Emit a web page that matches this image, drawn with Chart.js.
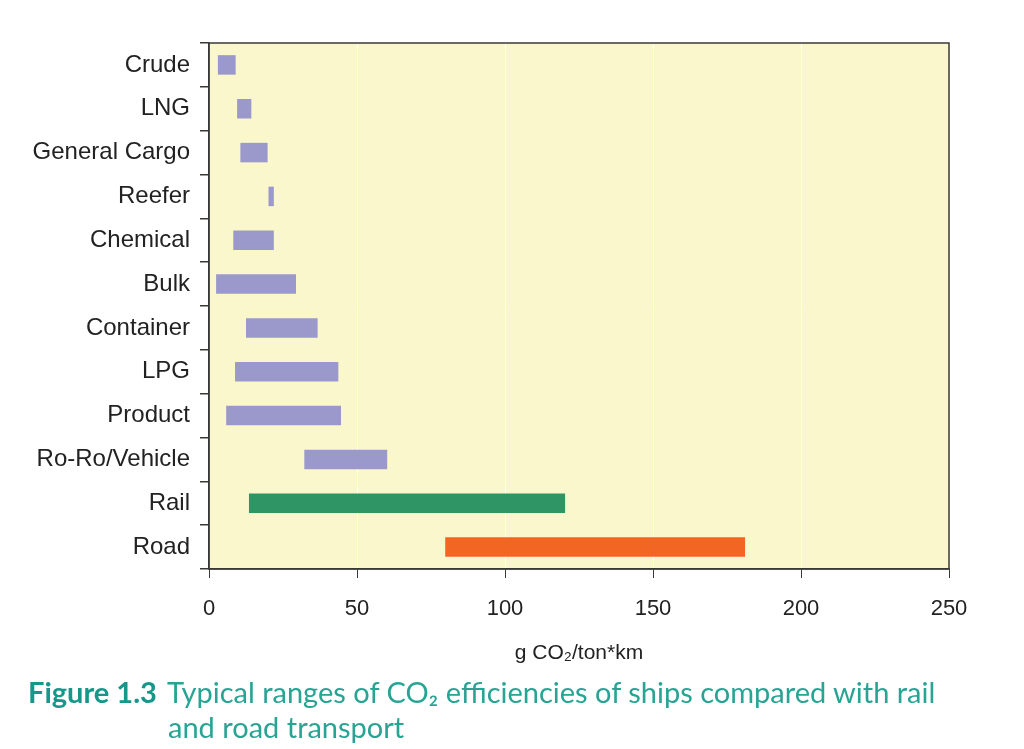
<!DOCTYPE html>
<html>
<head>
<meta charset="utf-8">
<script src="https://cdn.jsdelivr.net/npm/chart.js@4/dist/chart.umd.min.js"></script>
<style>
  html, body { margin:0; padding:0; background:#fff; }
  #wrap { position:relative; width:1024px; height:749px; overflow:hidden; }
  canvas { position:absolute; left:0; top:0; }
  #caption { position:absolute; left:28px; top:674px; font-family:Lato, "Noto Sans", sans-serif; font-size:29px; line-height:35px; color:#27a493; white-space:nowrap; transform-origin:0 0; }
  #caption b { color:#16978a; font-weight:700; margin-right:10px; }
  #caption .l2 { padding-left:140px; }
</style>
</head>
<body>
<div id="wrap">
  <canvas id="c" width="1024" height="749"></canvas>
  <div id="caption"><span class="l1"><b>Figure 1.3</b>Typical ranges of CO₂ efficiencies of ships compared with rail</span><br><span class="l2">and road transport</span></div>
</div>
<script>
const categories = ["Crude","LNG","General Cargo","Reefer","Chemical","Bulk","Container","LPG","Product","Ro-Ro/Vehicle","Rail","Road"];
const lowValues  = [3.0, 9.5, 10.6, 20.1, 8.2, 2.4, 12.5, 8.8, 5.8, 32.2, 13.5, 79.8];
const highValues = [9.0, 14.3, 19.8, 21.9, 21.9, 29.4, 36.7, 43.7, 44.6, 60.2, 120.3, 181.1];
const barColors  = ["#9b98cc","#9b98cc","#9b98cc","#9b98cc","#9b98cc","#9b98cc","#9b98cc","#9b98cc","#9b98cc","#9b98cc","#2f9565","#f26522"];
const xTicks = [0, 50, 100, 150, 200, 250];
const xTitle = "g CO₂/ton*km";

const ranges = categories.map((c, i) => [lowValues[i], highValues[i]]);

const plotBg = {
  id: 'plotBg',
  beforeDraw(chart) {
    const {ctx, chartArea: a} = chart;
    ctx.save();
    ctx.fillStyle = '#fbf7cc';
    ctx.fillRect(a.left, a.top, a.right - a.left, a.bottom - a.top);
    ctx.restore();
  },
  afterDraw(chart) {
    const {ctx, chartArea: a} = chart;
    ctx.save();
    ctx.strokeStyle = '#3a3a35';
    ctx.lineWidth = 1.5;
    ctx.strokeRect(a.left, a.top, a.right - a.left, a.bottom - a.top);
    ctx.restore();
  }
};

new Chart(document.getElementById('c'), {
  type: 'bar',
  data: {
    labels: categories,
    datasets: [{
      data: ranges,
      backgroundColor: barColors,
      borderWidth: 0,
      categoryPercentage: 1,
      barPercentage: 0.445
    }]
  },
  options: {
    indexAxis: 'y',
    responsive: false,
    animation: false,
    devicePixelRatio: 1,
    layout: { padding: { left: 0, top: 43, right: 75, bottom: 83 } },
    plugins: { legend: { display: false }, tooltip: { enabled: false } },
    scales: {
      x: {
        min: 0, max: 250,
        afterBuildTicks: (s) => { s.ticks = xTicks.map(v => ({ value: v })); },
        afterFit: (s) => { s.height = 97; },
        grid: { color: 'rgba(255,255,255,0.9)', lineWidth: 1, tickColor: '#3a3a35', tickLength: 9, drawOnChartArea: true },
        border: { color: '#3a3a35', width: 1.5 },
        ticks: { color: '#222', font: { family: 'Liberation Sans', size: 22 }, padding: 18, maxRotation: 0 },
        title: { display: true, text: xTitle, color: '#222', font: { family: 'Liberation Sans', size: 21 }, padding: 0 }
      },
      y: {
        afterFit: (s) => { s.width = 209; },
        grid: { offset: true, drawOnChartArea: false, tickColor: '#3a3a35', tickLength: 9, lineWidth: 1.5 },
        border: { color: '#3a3a35', width: 1.5 },
        ticks: { color: '#222', font: { family: 'Liberation Sans', size: 24 }, padding: 10 }
      }
    }
  },
  plugins: [plotBg]
});
</script>
</body>
</html>
